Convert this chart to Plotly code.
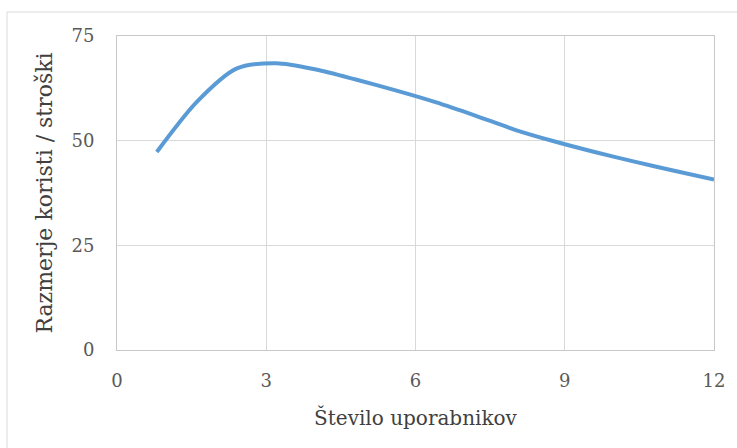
import plotly.graph_objects as go

# Number of users vs. benefit/cost ratio
users = [0.8, 1.6, 2.4, 3.2, 4.0, 4.8, 5.6, 6.4, 7.2, 8.0, 8.8, 9.6, 10.4, 11.2, 12.0]
ratio = [47.3, 59.2, 67.2, 68.5, 67.0, 64.6, 62.0, 59.2, 56.0, 52.6, 49.8, 47.3, 45.0, 42.8, 40.7]

x_ticks = [0, 3, 6, 9, 12]
y_ticks = [0, 25, 50, 75]

W, H = 737, 448
L, R, T, B = 117, 23, 36, 98
pw, ph = W - L - R, H - T - B

fig = go.Figure()
fig.add_trace(go.Scatter(
    x=users, y=ratio, mode="lines",
    line=dict(color="#5B9BD5", width=4, shape="spline", smoothing=0.8),
    hoverinfo="skip", showlegend=False,
))

font_family = "DejaVu Serif"
tick_font = dict(family=font_family, size=18, color="#595959")
title_color = "#404040"

fig.update_layout(
    width=W, height=H,
    margin=dict(l=L, r=R, t=T, b=B),
    paper_bgcolor="white", plot_bgcolor="white",
    font=dict(family=font_family),
    xaxis=dict(
        range=[0, 12], tickvals=x_ticks, ticktext=[str(v) for v in x_ticks],
        showgrid=True, gridcolor="#d9d9d9", gridwidth=1,
        showline=True, linecolor="#c8c8c8", linewidth=1, mirror=True,
        zeroline=False, ticks="", tickfont=tick_font, ticklabelstandoff=14,
        title=dict(text="Število uporabnikov", font=dict(family=font_family, size=20, color=title_color), standoff=21),
    ),
    yaxis=dict(
        range=[0, 75], tickvals=y_ticks, ticktext=[str(v) for v in y_ticks],
        showgrid=True, gridcolor="#d9d9d9", gridwidth=1,
        showline=True, linecolor="#c8c8c8", linewidth=1, mirror=True,
        zeroline=False, ticks="", tickfont=tick_font, ticklabelstandoff=18,
        title=dict(text="Razmerje koristi / stroški", font=dict(family=font_family, size=22, color=title_color), standoff=12),
    ),
)

# Outer chart frame
fig.add_shape(
    type="rect", xref="paper", yref="paper",
    x0=(7 - L) / pw, x1=(W + 20 - L) / pw,
    y0=-(H + 20 - T - ph) / ph, y1=(H - 12 - B) / ph,
    line=dict(color="#d9d9d9", width=1), fillcolor="rgba(0,0,0,0)", layer="below",
)

fig.write_html("out.html")
